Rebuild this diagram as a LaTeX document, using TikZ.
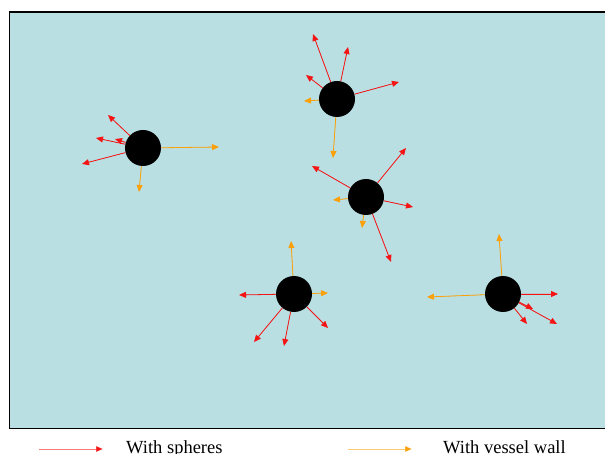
\documentclass[tikz,border=0pt]{standalone}
\usepackage{fontspec}
\setmainfont{Liberation Serif}
\usetikzlibrary{arrows.meta}
\definecolor{fluid}{RGB}{185,223,227}
\definecolor{hitred}{RGB}{245,20,20}
\definecolor{wallorange}{RGB}{250,160,10}
\tikzset{
  sphere/.style={circle,fill=black,draw=none,minimum size=36pt,inner sep=0pt},
  tip/.style={-{Triangle[length=7pt,width=6pt]}},
  sphhit/.style={tip,draw=hitred,fill=hitred,line width=0.8pt},
  wallhit/.style={tip,draw=wallorange,fill=wallorange,line width=0.8pt},
  legendtext/.style={anchor=base west,inner sep=0pt,font=\fontsize{18.5}{22}\selectfont},
}
\begin{document}
\begin{tikzpicture}[x=1pt,y=-1pt]
\useasboundingbox (0,0) rectangle (605,454);
% vessel
\draw[fill=fluid,line width=1.3pt] (9.5,12) rectangle (612,428.5);

% particles
\node[sphere] (s1) at (143,148) {};
\node[sphere] (s2) at (337,99) {};
\node[sphere] (s3) at (366,197) {};
\node[sphere] (s4) at (294,294) {};
\node[sphere] (s5) at (503,294) {};

% arrow end points
\coordinate (a1) at (108,115);
\coordinate (a2) at (115,139);
\coordinate (a3) at (96,138);
\coordinate (a4) at (82,164);
\coordinate (a5) at (219,147);
\coordinate (a6) at (139,192);

\coordinate (b1) at (313,34);
\coordinate (b2) at (348,47);
\coordinate (b3) at (306,75);
\coordinate (b4) at (399,82);
\coordinate (b5) at (304,101);
\coordinate (b6) at (333,158);

\coordinate (c1) at (406,148);
\coordinate (c2) at (312,166);
\coordinate (c3) at (413,207);
\coordinate (c4) at (391,262);
\coordinate (c5) at (333,200);
\coordinate (c6) at (362,228);

\coordinate (d1) at (291,241);
\coordinate (d2) at (328,293);
\coordinate (d3) at (239,295);
\coordinate (d4) at (254,342);
\coordinate (d5) at (284,346);
\coordinate (d6) at (328,328);

\coordinate (e1) at (499,234);
\coordinate (e2) at (427,297);
\coordinate (e3) at (558,294);
\coordinate (e4) at (527,324);
\coordinate (e5) at (533,309);
\coordinate (e6) at (557,324);

% collisions
\draw[sphhit] (s1) -- (a1);
\draw[sphhit] (s1) -- (a2);
\draw[sphhit] (s1) -- (a3);
\draw[sphhit] (s1) -- (a4);
\draw[wallhit] (s1) -- (a5);
\draw[wallhit] (s1) -- (a6);

\draw[sphhit] (s2) -- (b1);
\draw[sphhit] (s2) -- (b2);
\draw[sphhit] (s2) -- (b3);
\draw[sphhit] (s2) -- (b4);
\draw[wallhit] (s2) -- (b5);
\draw[wallhit] (s2) -- (b6);

\draw[sphhit] (s3) -- (c1);
\draw[sphhit] (s3) -- (c2);
\draw[sphhit] (s3) -- (c3);
\draw[sphhit] (s3) -- (c4);
\draw[wallhit] (s3) -- (c5);
\draw[wallhit] (s3) -- (c6);

\draw[wallhit] (s4) -- (d1);
\draw[wallhit] (s4) -- (d2);
\draw[sphhit] (s4) -- (d3);
\draw[sphhit] (s4) -- (d4);
\draw[sphhit] (s4) -- (d5);
\draw[sphhit] (s4) -- (d6);

\draw[wallhit] (s5) -- (e1);
\draw[wallhit] (s5) -- (e2);
\draw[sphhit] (s5) -- (e3);
\draw[sphhit] (s5) -- (e4);
\draw[sphhit] (s5) -- (e5);
\draw[sphhit] (s5) -- (e6);

% legend
\coordinate (lr0) at (39,449);
\coordinate (lr1) at (103,449);
\coordinate (lo0) at (348,449);
\coordinate (lo1) at (412,449);
\draw[sphhit,draw opacity=0.5] (lr0) -- (lr1);
\draw[wallhit,draw opacity=0.5] (lo0) -- (lo1);
\node[legendtext] (lt1) at (126,453) {With spheres};
\node[legendtext] (lt2) at (443,453) {With vessel wall};
\end{tikzpicture}
\end{document}
